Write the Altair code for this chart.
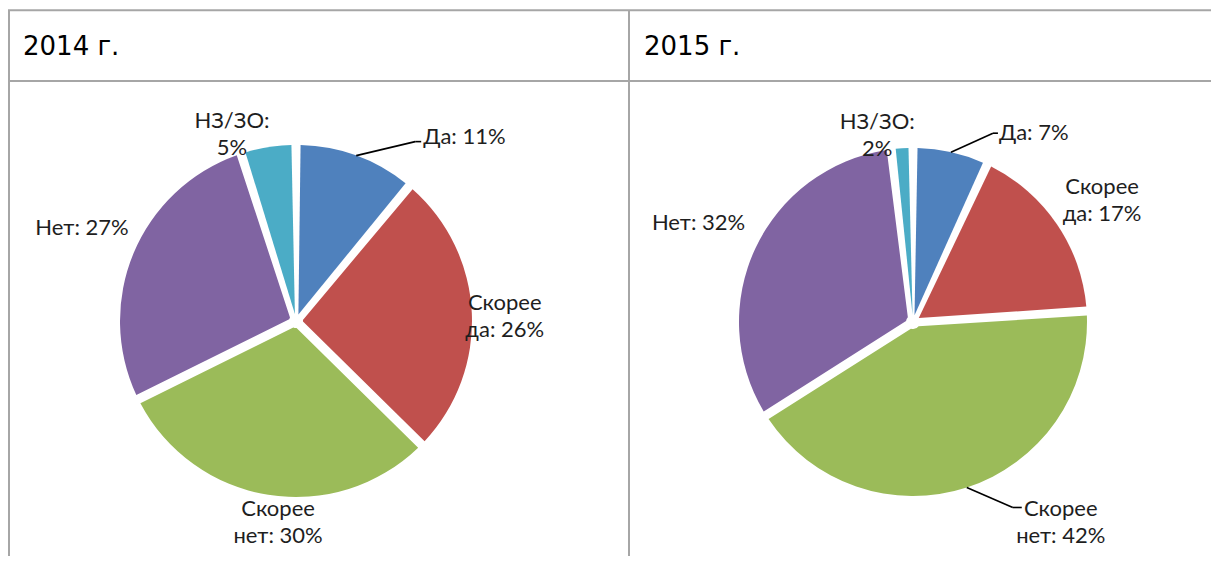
import altair as alt
import pandas as pd

# ---------------- data ----------------
categories = ["Да", "Скорее да", "Скорее нет", "Нет", "НЗ/ЗО"]
values_2014 = [11, 26, 30, 27, 5]
values_2015 = [7, 17, 42, 32, 2]
years = ["2014 г.", "2015 г."]
colors = ["#4F81BD", "#C0504D", "#9BBB59", "#8064A2", "#4BACC6"]

# ---------------- layout (positions / styles only) ----------------
W, H = 1203, 548
BORDER = "#A6A6A6"
LABEL_FONT = "Lato"
LABEL_SIZE = 22
LINE_H = 27
TEXT_COLOR = "#1E1E1E"

pies = {
    "2014 г.": dict(cx=288, cy=313, r=176),
    "2015 г.": dict(cx=905, cy=314, r=174),
}
# how each label is wrapped: "word" -> break after first word, "colon" -> after colon, "" -> none
wrap = ["", "word", "word", "", "colon"]
# per label: radius of anchor along slice mid-angle, nudge dx, dy, align, leader(elbow dx, dy, tick)
label_layout = {
    "2014 г.": [
        dict(lr=176, ndx=67, ndy=-19, align="left", lead=1, ex=59, ey=-14, tick=6),
        dict(lr=209, ndx=0, ndy=5, align="center", lead=0, ex=0, ey=0, tick=0),
        dict(lr=202, ndx=14, ndy=2, align="center", lead=0, ex=0, ey=0, tick=0),
        dict(lr=232, ndx=0, ndy=-3, align="center", lead=0, ex=0, ey=0, tick=0),
        dict(lr=190, ndx=-34, ndy=1, align="center", lead=0, ex=0, ey=0, tick=0),
    ],
    "2015 г.": [
        dict(lr=174, ndx=48, ndy=-19, align="left", lead=1, ex=42, ey=-19, tick=5),
        dict(lr=225, ndx=3, ndy=5, align="center", lead=0, ex=0, ey=0, tick=0),
        dict(lr=174, ndx=94, ndy=35, align="center", lead=1, ex=46, ey=20, tick=9),
        dict(lr=237, ndx=0, ndy=2, align="center", lead=0, ex=0, ey=0, tick=0),
        dict(lr=187, ndx=-24, ndy=0, align="center", lead=0, ex=0, ey=0, tick=0),
    ],
}


def make_label(cat, v, w):
    s = f"{cat}: {v}%"
    if w == "word":
        s = s.replace(" ", "\n", 1)
    elif w == "colon":
        s = s.replace(": ", ":\n", 1)
    return s


def pie_layers(year, values):
    p = pies[year]
    rows = []
    for i, (c, v) in enumerate(zip(categories, values)):
        lab = make_label(c, v, wrap[i])
        row = dict(idx=i, cat=c, value=v, label=lab, nl=lab.count("\n"))
        row.update(label_layout[year][i])
        rows.append(row)
    df = pd.DataFrame(rows)

    arc = alt.Chart(df).mark_arc(
        outerRadius=p["r"], innerRadius=7, padAngle=0.052
    ).encode(
        theta=alt.Theta("value:Q", stack=True),
        color=alt.Color("cat:N", scale=alt.Scale(domain=categories, range=colors), legend=None),
        order=alt.Order("idx:Q"),
        x=alt.value(p["cx"]),
        y=alt.value(p["cy"]),
    )

    base = alt.Chart(df).transform_joinaggregate(
        total="sum(value)"
    ).transform_window(
        cum="sum(value)", sort=[alt.SortField("idx")], frame=[None, 0]
    ).transform_calculate(
        mid="(datum.cum - datum.value / 2) / datum.total * 2 * PI",
    ).transform_calculate(
        tx=f"{p['cx']} + datum.lr * sin(datum.mid) + datum.ndx",
        ty=f"{p['cy']} - datum.lr * cos(datum.mid) + datum.ndy - datum.nl * {LINE_H / 2}",
        ax=f"{p['cx']} + {p['r']} * sin(datum.mid)",
        ay=f"{p['cy']} - {p['r']} * cos(datum.mid)",
    ).transform_calculate(
        bx="datum.ax + datum.ex",
        by="datum.ay + datum.ey",
    ).transform_calculate(
        cx2="datum.bx + datum.tick",
    )

    txt_kw = dict(font=LABEL_FONT, fontSize=LABEL_SIZE, lineBreak="\n", lineHeight=LINE_H,
                  baseline="middle", color=TEXT_COLOR)
    enc = dict(
        x=alt.X("tx:Q", scale=None, axis=None),
        y=alt.Y("ty:Q", scale=None, axis=None),
        text=alt.Text("label:N"),
    )
    t_left = base.transform_filter("datum.align == 'left'").mark_text(align="left", **txt_kw).encode(**enc)
    t_center = base.transform_filter("datum.align == 'center'").mark_text(align="center", **txt_kw).encode(**enc)

    lead = base.transform_filter("datum.lead == 1")
    seg1 = lead.mark_rule(color="#000000", strokeWidth=1.6).encode(
        x=alt.X("ax:Q", scale=None, axis=None), y=alt.Y("ay:Q", scale=None, axis=None),
        x2="bx:Q", y2="by:Q",
    )
    seg2 = lead.mark_rule(color="#000000", strokeWidth=1.6).encode(
        x=alt.X("bx:Q", scale=None, axis=None), y=alt.Y("by:Q", scale=None, axis=None),
        x2="cx2:Q", y2="by:Q",
    )
    return [arc, seg1, seg2, t_left, t_center]


# ---------------- table frame ----------------
frame_df = pd.DataFrame({"k": [0]})
line_kw = dict(color=BORDER, strokeWidth=2)
h_top = alt.Chart(frame_df).mark_rule(**line_kw).encode(x=alt.value(0), x2=alt.value(W), y=alt.value(2.3))
h_mid = alt.Chart(frame_df).mark_rule(**line_kw).encode(x=alt.value(0), x2=alt.value(W), y=alt.value(73))
v_left = alt.Chart(frame_df).mark_rule(**line_kw).encode(x=alt.value(1), y=alt.value(2.3), y2=alt.value(H))
v_mid = alt.Chart(frame_df).mark_rule(**line_kw).encode(x=alt.value(621), y=alt.value(2.3), y2=alt.value(H))

head_df = pd.DataFrame({"year": years, "hx": [15, 636]})
headers = alt.Chart(head_df).mark_text(
    font="DejaVu Sans", fontSize=26, align="left", baseline="alphabetic", color="#000000"
).encode(
    x=alt.X("hx:Q", scale=None, axis=None),
    y=alt.value(47),
    text="year:N",
)

layers = [h_top, h_mid, v_left, v_mid, headers]
layers += pie_layers("2014 г.", values_2014)
layers += pie_layers("2015 г.", values_2015)

chart = alt.layer(*layers).resolve_scale(theta="independent").properties(
    width=W, height=H, padding=0, autosize=alt.AutoSizeParams(type="none")
).configure_view(strokeWidth=0)

chart.save("out.html", embed_options={"renderer": "svg", "actions": False})
